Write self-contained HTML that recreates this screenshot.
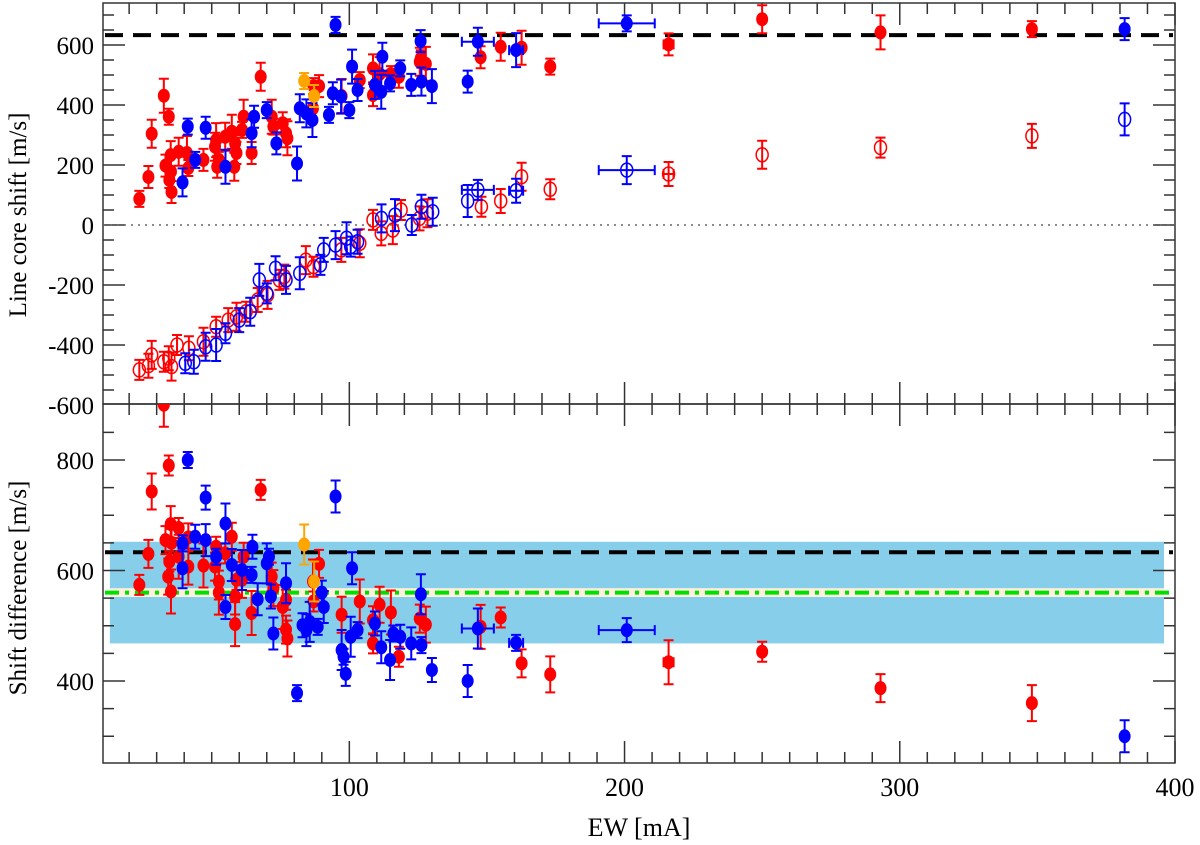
<!DOCTYPE html>
<html><head><meta charset="utf-8"><style>
html,body{margin:0;padding:0;background:#fff;}
svg{display:block;font-family:"Liberation Serif",serif;}
</style></head><body>
<svg id="chart" width="1200" height="845" viewBox="0 0 1200 845" xmlns="http://www.w3.org/2000/svg">
<g id="top-panel"></g>
<g id="bottom-panel"></g>
<text x="0" y="0" font-size="25" text-anchor="middle" transform="translate(26,215) rotate(-90)">Line core shift [m/s]</text>
<text x="0" y="0" font-size="25" text-anchor="middle" transform="translate(26,588) rotate(-90)">Shift difference [m/s]</text>
<text x="639" y="836" font-size="26" text-anchor="middle">EW [mA]</text>
</svg>
<script>
// ---- data ----
const redTopEW = [23.7,27,28.2,32.6,34.4,33.2,35.1,35.2,34.6,35.4,38,41,41.5,47,51.2,51.6,52.6,52,54.9,57.3,58.5,59,58.2,61.6,61,64.5,67.8,71.8,72.4,75.8,77,77.5,87,89,86.8,97.2,103.8,108.6,108.6,111,115.1,118,125.6,127.8,126,147.7,155,162.6,173,216,250,293,348];
const redTopVal = [87,160,304,431,361,198,233,178,150,110,244,240,190,217,261,283,217,194,294,311,272,240,194,361,317,240,494,361,328,339,306,289,463,463,389,430,483,433,522,503,503,494,544,537,556,559,594,591,528,602,686,642,653];
const blueTopEW = [95,125.9,112,101,41.3,47.8,39.4,81,70,65.4,64.5,55,44,73.5,84.4,86.6,92.6,94,82,97,100,103,109.3,111.6,114.8,122.5,126.2,130,118.5,143,146.7,160.6,200.8,381.7];
const blueTopVal = [667,613,561,528,328,324,142,205,383,361,306,194,217,272,372,350,367,439,389,428,383,450,467,444,472,467,478,463,522,478,611,583,672,653];
const orangeTopEW = [83.6,87.2];
const orangeTopVal = [480,430];
const redOpenEW = [23.7,27,28.2,32.6,34.4,35.4,37.4,41.7,47,51.6,56,59,62.5,66.7,70.3,74.6,76.4,84.2,87,97.1,103.8,108.6,111.6,115.8,118.8,125.5,128.4,148,155,162.6,173,216,250,293,348];
const redOpenVal = [-483,-469,-433,-456,-444,-472,-400,-411,-389,-339,-317,-306,-289,-250,-233,-183,-172,-117,-139,-83,-61,17,-28,-17,50,22,39,61,80,161,119,170,234,258,297];
const blueOpenEW = [40.4,43.5,47.8,51.6,55,60,64,67.3,70,73.2,77,82,89.5,90.7,95,99,100.5,103,111.7,116.6,122.7,126.2,130.3,143,146.7,160.6,200.8,381.7];
const blueOpenVal = [-461,-456,-406,-400,-361,-317,-289,-183,-228,-144,-183,-161,-133,-83,-67,-44,-72,-56,22,33,0,61,44,80,117,114,183,352];
const redDiffEW = [23.7,27,28.2,32.6,34.4,33.2,35.1,35.2,34.6,35.4,34.2,38,38,41.5,41.5,47,51.6,51.2,52.6,52.6,54.9,57.3,58.5,58.5,59,61.6,61,64.5,67.8,71.8,72.4,75.8,77,77,77.5,86.8,87,89,97.2,103.8,108.6,108.6,111,115.1,118,125.6,127.8,147.7,155,162.6,173,216,250,293,348];
const redDiffVal = [574,630,743,900,790,655,684,562,616,650,589,625,677,660,607,609,643,607,580,560,631,661,553,503,583,625,583,523,746,589,568,534,547,493,477,580,544,612,520,544,468,510,538,524,444,513,502,498,515,432,412,434,453,387,360];
const blueDiffEW = [41.3,47.8,95,55,39.4,44,47.8,39.4,51.6,55,57.3,61,64.5,64.8,66.7,70,70.8,71.5,72.4,77,81,83,84.4,85.6,88.5,90,90.7,97.2,97.9,98.7,101,100.5,103,109.3,111.6,114.8,116,118.5,122.5,126,126.2,130,143,146.7,160.6,200.8,381.7];
const blueDiffVal = [800,732,734,685,649,661,655,604,625,534,610,601,592,643,548,613,625,553,486,577,378,501,492,507,498,560,534,456,444,413,604,480,492,504,461,438,486,480,468,557,465,420,400,495,469,492,300];
const orangeDiffEW = [83.6,87.2];
const orangeDiffVal = [647,580];
const xTicks = [100,200,300,400];
const topYTicks = [600,400,200,0,-200,-400,-600];
const botYTicks = [800,600,400];
const refShift = 633, meanDiff = 560, bandLow = 468, bandHigh = 652, innerLow = 552, innerHigh = 568;

// ---- scales ----
const X0=103, X1=1175, EW0=10.5, EW1=400;
function sx(v){return X0+(v-EW0)*(X1-X0)/(EW1-EW0);}
const T0=3, T1=404; function syT(v){return 225-v*0.3;}
const B0=404, B1=763; function syB(v){return 460-(v-800)*0.5525;}
const NS="http://www.w3.org/2000/svg";
function mk(tag,attrs,parent){const e=document.createElementNS(NS,tag);for(const k in attrs)e.setAttribute(k,attrs[k]);parent.appendChild(e);return e;}
const topG=document.getElementById('top-panel');
const botG=document.getElementById('bottom-panel');

function xerrFor(ew){
  if(Math.abs(ew-200.8)<0.01) return 28;
  if(Math.abs(ew-146.7)<0.01) return 16;
  if(Math.abs(ew-160.6)<0.01) return 7;
  if(Math.abs(ew-216)<0.01) return 5;
  return 0;
}
function errbar(g,x,y,ey,ex,col){
  const p=mk('path',{d:`M${x},${y-ey}V${y+ey}M${x-5},${y-ey}H${x+5}M${x-5},${y+ey}H${x+5}`+(ex>0?`M${x-ex},${y}H${x+ex}M${x-ex},${y-5}V${y+5}M${x+ex},${y-5}V${y+5}`:''),stroke:col,'stroke-width':2,fill:'none'},g);
  
  
}
function series(g,ew,val,sy,col,filled,name,errs){
  for(let i=0;i<ew.length;i++){
    const x=sx(ew[i]),y=sy(val[i]);
    const ey=errs? errs(i):8+(i%4)*3;
    errbar(g,x,y,ey,xerrFor(ew[i]),col);
    const c=mk('ellipse',{cx:x,cy:y,rx:filled?5.5:6,ry:filled?6.5:7,fill:filled?col:'none',stroke:col,'stroke-width':filled?1:1.5},g);
    
    
  }
}
function axes(g,y0,y1,sy,ticks,minorStep,vmin,vmax){
  const r=mk('rect',{x:X0,y:y0,width:X1-X0,height:y1-y0,fill:'none',stroke:'#333','stroke-width':1.5},g);
  
  
  let d='';
  for(let v=20;v<=EW1;v+=10){const x=sx(v);const L=(v%100===0)?22:11;d+=`M${x},${y1}V${y1-L}M${x},${y0}V${y0+L}`;}
  for(let v=Math.ceil(vmin/minorStep)*minorStep;v<=vmax;v+=minorStep){const y=sy(v);if(y<y0+1||y>y1-1)continue;const L=(v%200===0)?22:11;d+=`M${X0},${y}H${X0+L}M${X1},${y}H${X1-L}`;}
  const t=mk('path',{d:d,stroke:'#333','stroke-width':1.5,fill:'none'},g);
  
  
  ticks.forEach(v=>{const tx=mk('text',{x:X0-9,y:sy(v)+9,'font-size':25,'text-anchor':'end'},g);tx.textContent=v;
    
    });
}
// top panel
axes(topG,T0,T1,syT,topYTicks,50,-600,740);
let zl=mk('line',{x1:X0,x2:X1,y1:syT(0),y2:syT(0),stroke:'#666','stroke-width':1.5,'stroke-dasharray':'2,5'},topG);


let rl=mk('line',{x1:X0+2,x2:X1-2,y1:syT(refShift),y2:syT(refShift),stroke:'#000','stroke-width':4,'stroke-dasharray':'18,10'},topG);


series(topG,redOpenEW,redOpenVal,syT,'#f00',false,'red-open-point',i=>10+(i%3)*2);
series(topG,blueOpenEW,blueOpenVal,syT,'#00f',false,'blue-open-point',i=>10+(i%4)*2);
series(topG,redTopEW,redTopVal,syT,'#f00',true,'red-filled-point');
series(topG,blueTopEW,blueTopVal,syT,'#00f',true,'blue-filled-point');
series(topG,orangeTopEW,orangeTopVal,syT,'#ffa500',true,'orange-point');
// bottom panel
let band=mk('rect',{x:sx(13),y:syB(bandHigh),width:sx(396)-sx(13),height:syB(bandLow)-syB(bandHigh),fill:'#87ceeb'},botG);


let ib=mk('rect',{x:sx(13),y:syB(innerHigh),width:sx(396)-sx(13),height:syB(innerLow)-syB(innerHigh),fill:'#fdf0dc'},botG);


let gl=mk('line',{x1:X0+2,x2:X1-2,y1:syB(meanDiff),y2:syB(meanDiff),stroke:'#00e000','stroke-width':4,'stroke-dasharray':'14,6,4,6'},botG);


let bl=mk('line',{x1:X0+2,x2:X1-2,y1:syB(refShift),y2:syB(refShift),stroke:'#000','stroke-width':4,'stroke-dasharray':'18,10'},botG);


axes(botG,B0,B1,syB,botYTicks,50,250,900);
const clip=mk('clipPath',{id:'bc'},botG);mk('rect',{x:X0,y:B0,width:X1-X0,height:B1-B0},clip);
const bp=mk('g',{'clip-path':'url(#bc)'},botG);


series(bp,redDiffEW,redDiffVal,syB,'#f00',true,'red-diff-point',i=>10+(i%4)*4);
series(bp,blueDiffEW,blueDiffVal,syB,'#00f',true,'blue-diff-point',i=>8+(i%4)*4);
series(bp,orangeDiffEW,orangeDiffVal,syB,'#ffa500',true,'orange-diff-point',i=>20);
xTicks.forEach(v=>{const t=mk('text',{x:sx(v),y:796,'font-size':26,'text-anchor':'middle'},botG);t.textContent=v;
  
  });
</script>
</body></html>
